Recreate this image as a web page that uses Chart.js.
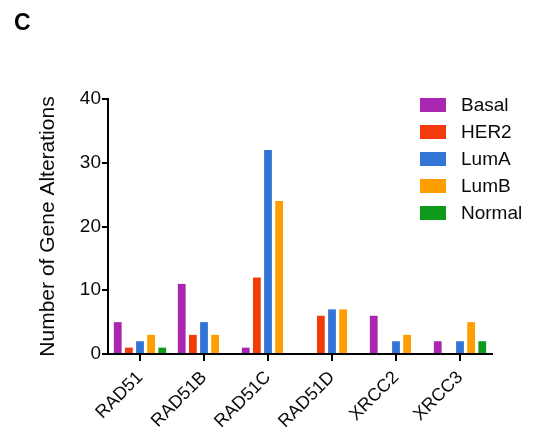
<!DOCTYPE html>
<html>
<head>
<meta charset="utf-8">
<script src="https://cdn.jsdelivr.net/npm/chart.js@4/dist/chart.umd.min.js"></script>
<style>
  html, body { margin: 0; padding: 0; background: #ffffff; }
  #wrap { width: 533px; height: 447px; }
</style>
</head>
<body>
<div id="wrap"><canvas id="chart" width="533" height="447"></canvas></div>
<script>
// Alterations per gene, split by breast cancer subtype
const genes  = ['RAD51', 'RAD51B', 'RAD51C', 'RAD51D', 'XRCC2', 'XRCC3'];
const basal  = [5, 11, 1, 0, 6, 2];
const her2   = [1, 3, 12, 6, 0, 0];
const lumA   = [2, 5, 32, 7, 2, 2];
const lumB   = [3, 3, 24, 7, 3, 5];
const normal = [1, 0, 0, 0, 0, 2];
const subtypes = ['Basal', 'HER2', 'LumA', 'LumB', 'Normal'];
const yTicks = [0, 10, 20, 30, 40];
const panelLetter = 'C';

const colors = ['#a826b0', '#f23a0a', '#3275d6', '#ff9e00', '#0e9a1a'];
const series = [basal, her2, lumA, lumB, normal];
const FONT = '"Liberation Sans", Arial, sans-serif';
const INK = '#0a0a0a';

// Panel letter and the subtype key, drawn on top of the chart
const overlay = {
  id: 'overlay',
  afterDraw(chart) {
    const ctx = chart.ctx;
    ctx.save();
    ctx.fillStyle = '#000';
    ctx.font = 'bold 23px ' + FONT;
    ctx.textBaseline = 'alphabetic';
    ctx.textAlign = 'left';
    ctx.fillText(panelLetter, 14, 30);

    ctx.font = '19px ' + FONT;
    ctx.textBaseline = 'middle';
    chart.data.datasets.forEach((ds, i) => {
      const cy = 105 + i * 27;
      ctx.fillStyle = ds.backgroundColor;
      ctx.fillRect(420, cy - 7, 26, 14);
      ctx.fillStyle = INK;
      ctx.fillText(ds.label, 461, cy + 1);
    });
    ctx.restore();
  }
};

new Chart(document.getElementById('chart'), {
  type: 'bar',
  data: {
    labels: genes,
    datasets: subtypes.map((name, i) => ({
      label: name,
      data: series[i],
      backgroundColor: colors[i],
      borderWidth: 0,
      categoryPercentage: 0.87,
      barPercentage: 0.7
    }))
  },
  options: {
    responsive: false,
    animation: false,
    devicePixelRatio: 1,
    layout: { padding: { left: 36, top: 99, right: 41, bottom: 0 } },
    plugins: {
      legend: { display: false },
      tooltip: { enabled: false },
      title: { display: false }
    },
    scales: {
      x: {
        offset: true,
        afterFit(scale) { scale.height = 93; },
        grid: {
          offset: false,
          drawOnChartArea: false,
          drawTicks: true,
          tickLength: 7,
          color: '#000',
          lineWidth: 2
        },
        border: { display: true, color: '#000', width: 2 },
        ticks: {
          color: INK,
          font: { family: FONT, size: 18 },
          minRotation: 45,
          maxRotation: 45,
          padding: 6
        }
      },
      y: {
        min: 0,
        max: 40,
        afterFit(scale) { scale.width = 72; },
        afterBuildTicks(scale) { scale.ticks = yTicks.map(v => ({ value: v })); },
        grid: {
          drawOnChartArea: false,
          drawTicks: true,
          tickLength: 6,
          color: '#000',
          lineWidth: 2
        },
        border: { display: true, color: '#000', width: 2 },
        ticks: {
          color: INK,
          font: { family: FONT, size: 19 },
          padding: 1
        },
        title: {
          display: true,
          text: 'Number of Gene Alterations',
          color: INK,
          font: { family: FONT, size: 21 },
          padding: { top: 0, bottom: 0 }
        }
      }
    }
  },
  plugins: [overlay]
});
</script>
</body>
</html>
